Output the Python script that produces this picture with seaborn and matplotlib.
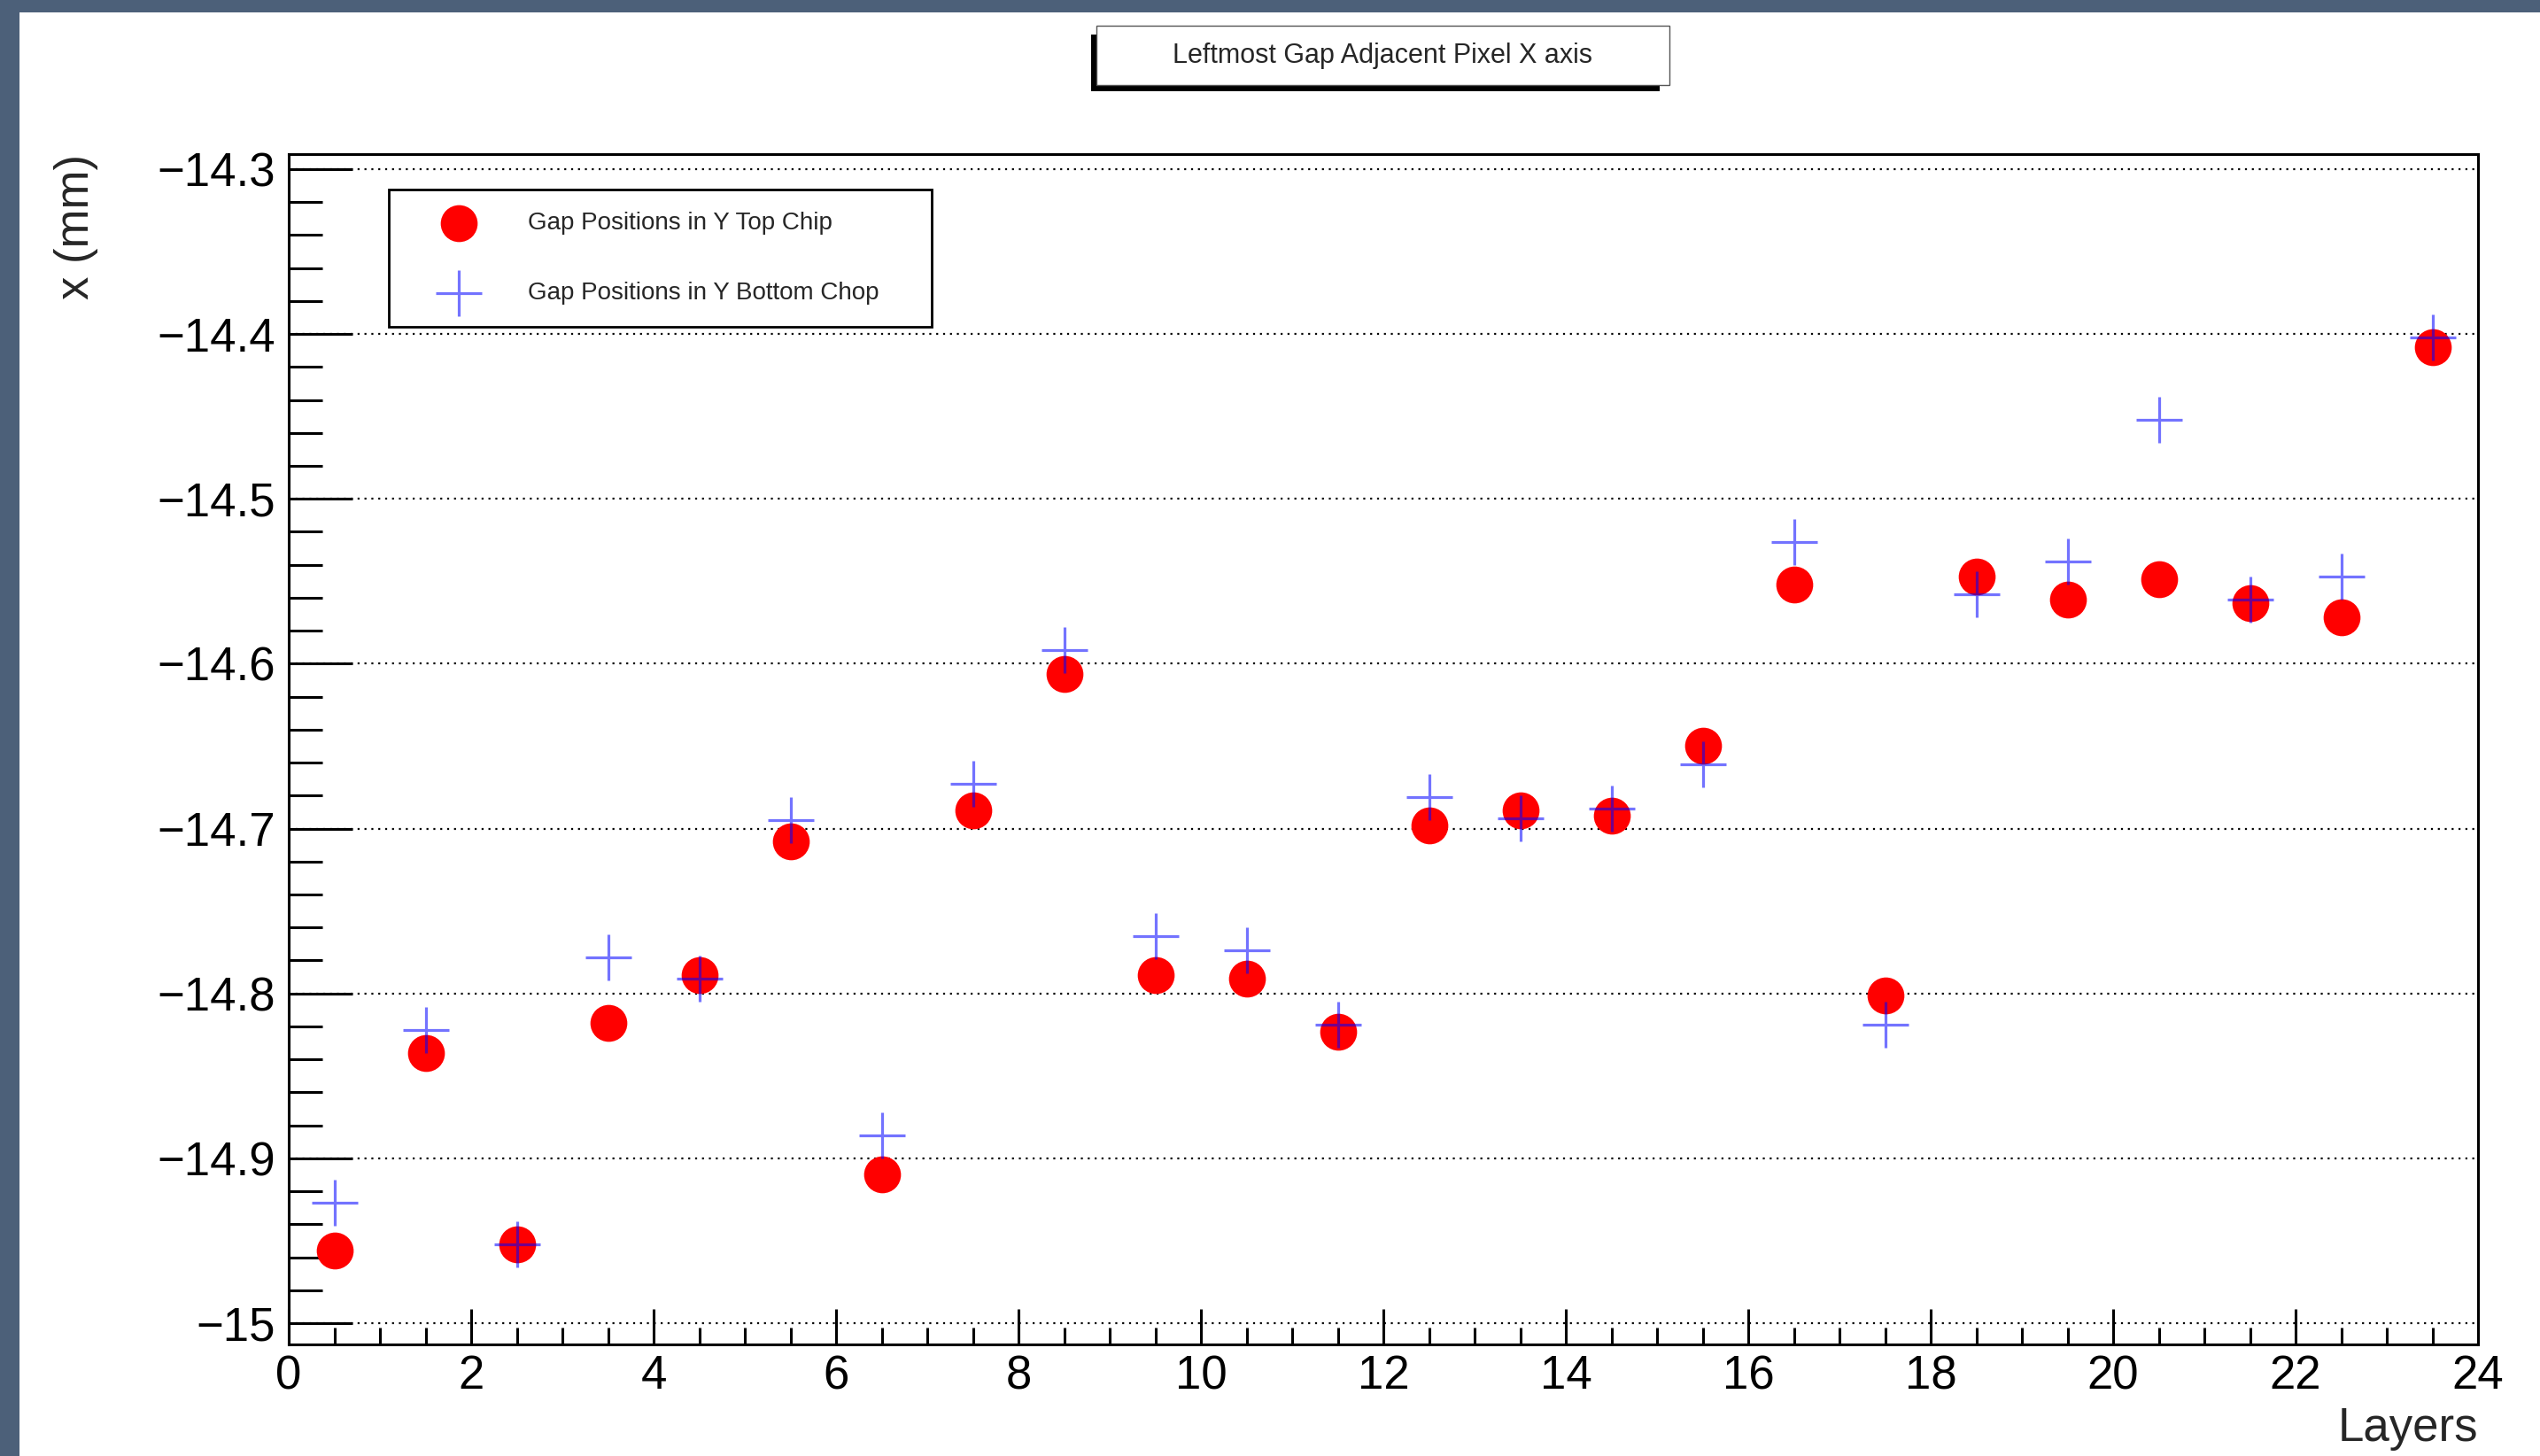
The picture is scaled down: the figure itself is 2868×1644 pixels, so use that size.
# ---- import packages ---- #
import pandas as pd
import matplotlib.pyplot as plt
from matplotlib.patches import Rectangle
from matplotlib.ticker import MultipleLocator, FuncFormatter
import seaborn as sns


# ---- data ---- #
layers = [0.5, 1.5, 2.5, 3.5, 4.5, 5.5, 6.5, 7.5, 8.5, 9.5, 10.5, 11.5,
          12.5, 13.5, 14.5, 15.5, 16.5, 17.5, 18.5, 19.5, 20.5, 21.5, 22.5, 23.5]

topChip = [-14.956, -14.836, -14.952, -14.818, -14.789, -14.708, -14.910, -14.689,
           -14.606, -14.789, -14.791, -14.823, -14.698, -14.689, -14.692, -14.650,
           -14.552, -14.801, -14.547, -14.561, -14.549, -14.563, -14.572, -14.408]

bottomChip = [-14.927, -14.822, -14.952, -14.778, -14.791, -14.695, -14.886, -14.673,
              -14.592, -14.765, -14.774, -14.819, -14.681, -14.694, -14.688, -14.661,
              -14.526, -14.819, -14.558, -14.538, -14.452, -14.561, -14.547, -14.402]

titleText = 'Leftmost Gap Adjacent Pixel X axis'
topLabel = 'Gap Positions in Y Top Chip'
bottomLabel = 'Gap Positions in Y Bottom Chop'

df = pd.DataFrame({'layer': layers, 'top': topChip, 'bottom': bottomChip})


# ---- style ---- #
sns.set_style('white')
plt.rcParams['font.family'] = ['Liberation Sans', 'DejaVu Sans']

W, H = 2868, 1644
fig = plt.figure(figsize=(W / 100, H / 100), dpi=100)
fig.patch.set_facecolor('white')

# frame of the pad in pixels: left 326, right 2798, top 174, bottom 1518
ax = fig.add_axes([326 / W, 1 - 1518 / H, 2472 / W, 1344 / H])


# ---- scatter the two series ---- #
sns.scatterplot(x='layer', y='top', data=df, ax=ax, color='red', s=900,
                linewidth=0, label=topLabel, zorder=3)
sns.scatterplot(x='layer', y='bottom', data=df, ax=ax, color='blue', marker='+',
                s=1444, linewidth=2.3, alpha=0.55, label=bottomLabel, zorder=4)


# ---- axes, ticks, grid ---- #
ax.set_xlim(0, 24)
ax.set_ylim(-15.0129, -14.2909)
ax.set_xlabel('')
ax.set_ylabel('')

ax.xaxis.set_major_locator(MultipleLocator(2))
ax.xaxis.set_minor_locator(MultipleLocator(0.5))
ax.yaxis.set_major_locator(MultipleLocator(0.1))
ax.yaxis.set_minor_locator(MultipleLocator(0.02))


def fmt(v, pos):
    return ('%g' % round(v, 2)).replace('-', '\u2212')


ax.yaxis.set_major_formatter(FuncFormatter(fmt))
ax.xaxis.set_major_formatter(FuncFormatter(fmt))

ax.tick_params(axis='both', which='both', direction='in', top=False, right=False,
               bottom=True, left=True, width=2.2, colors='black', labelsize=38)
ax.tick_params(axis='y', which='major', length=52, pad=11)
ax.tick_params(axis='y', which='minor', length=27)
ax.tick_params(axis='x', which='major', length=29, pad=8)
ax.tick_params(axis='x', which='minor', length=14)

for sp in ax.spines.values():
    sp.set_visible(True)
    sp.set_color('black')
    sp.set_linewidth(2.2)

ax.grid(False)
ax.grid(axis='y', which='major', color='black', linestyle=(0, (1, 2.5)), linewidth=1.6)
ax.set_axisbelow(True)


# ---- legend ---- #
leg = ax.legend(loc='upper left', bbox_to_anchor=(0.0457, 0.8557, 0.248, 0.1143),
                mode='expand', fontsize=20, frameon=True, fancybox=False,
                borderpad=0.9, labelspacing=1.9, handlelength=3.9,
                handletextpad=0.86, borderaxespad=0, framealpha=1)
leg.get_frame().set_edgecolor('black')
leg.get_frame().set_linewidth(2)


# ---- axis titles ---- #
fig.text(2798 / W, 1 - 1613 / H, 'Layers', ha='right', va='center', fontsize=38)
fig.text(86 / W, 1 - 174 / H, 'x (mm)', rotation=90, ha='center', va='top', fontsize=38)


# ---- title box with shadow ---- #
fig.add_artist(Rectangle((1232 / W, 1 - 103 / H), 642 / W, 64 / H,
                         transform=fig.transFigure, facecolor='black', edgecolor='none'))
fig.add_artist(Rectangle((1238 / W, 1 - 96 / H), 647 / W, 67 / H,
                         transform=fig.transFigure, facecolor='white', edgecolor='#555555',
                         linewidth=1))
fig.text(1561.5 / W, 1 - 62.5 / H, titleText, ha='center', va='center', fontsize=22)


# ---- window border ---- #
borderColor = '#4c6079'
fig.add_artist(Rectangle((0, 0), 22 / W, 1, transform=fig.transFigure,
                         facecolor=borderColor, edgecolor='none'))
fig.add_artist(Rectangle((0, 1 - 14 / H), 1, 14 / H, transform=fig.transFigure,
                         facecolor=borderColor, edgecolor='none'))

fig.savefig('out.png', dpi=100)
